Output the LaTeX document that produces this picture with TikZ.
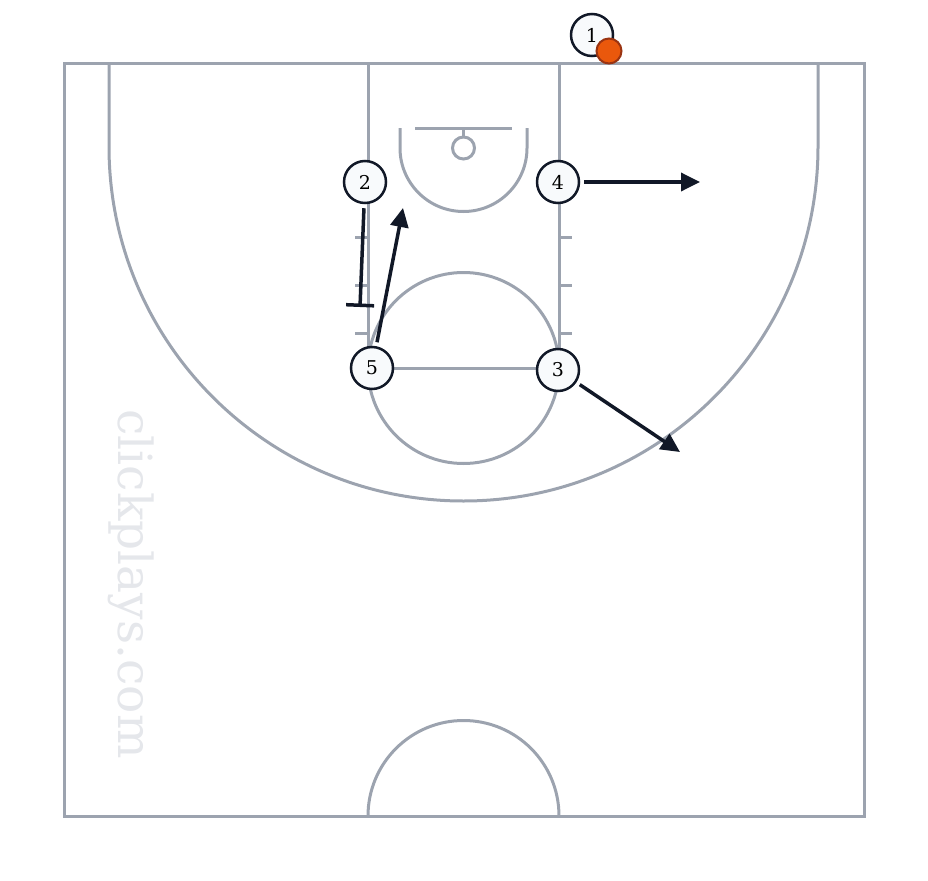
\documentclass[tikz,border=0pt]{standalone}
\usepackage{fontspec}
\setmainfont{DejaVu Serif}
\usetikzlibrary{arrows.meta, positioning, calc}
\definecolor{courtgray}{HTML}{9CA3AF}
\definecolor{ink}{HTML}{111827}
\definecolor{chip}{HTML}{F8FAFC}
\definecolor{ballfill}{HTML}{EA580C}
\definecolor{ballline}{HTML}{9A3412}
\definecolor{watermark}{HTML}{E5E7EB}

\begin{document}
\begin{tikzpicture}[x=1pt,y=-1pt,
      court/.style={draw=courtgray,line width=3pt},
      player/.style={circle,draw=ink,fill=chip,line width=2.5pt,minimum size=42pt,inner sep=0pt,font=\fontsize{19}{19}\selectfont},
      ball/.style={circle,draw=ballline,fill=ballfill,line width=2pt,minimum size=25pt,inner sep=0pt},
      move/.style={draw=ink,line width=3.5pt,shorten <=4pt,-{Triangle[length=19pt,width=18pt]}},
      screen/.style={draw=ink,line width=3.5pt,shorten <=4pt,-{Bar[width=28pt]}}]
  \useasboundingbox (0,0) rectangle (928,880);
  % court
  \draw[court] (64,64) rectangle (864,816);
  \draw[court] (109,64) -- (109,146.5) arc[start angle=180,end angle=0,radius=354.5] -- (818,64);
  \draw[court] (368,64) rectangle (559,368);
  \draw[court] (463.5,368) circle[radius=95.5];
  \foreach \y in {237,285,333} {
    \draw[court] (355,\y) -- (368,\y);
    \draw[court] (559,\y) -- (572,\y);
  }
  \draw[court] (415,128) -- (512,128);
  \draw[court] (463.5,128) -- (463.5,137);
  \draw[court] (463.5,148) circle[radius=11];
  \draw[court] (400,128) -- (400,148) arc[start angle=180,end angle=0,radius=63.5] -- (527,128);
  \draw[court] (368,816) arc[start angle=180,end angle=360,radius=95.5];
  \node[rotate=-90,text=watermark,font=\fontsize{47}{47}\selectfont] (wm) at (131,584) {clickplays.com};
  % players
  \node[player] (1) at (592,35) {1};
  \node[ball] (ball) at (609,51) {};
  \node[player] (2) at (365,182) {2};
  \node[player] (4) at (558,182) {4};
  \node[player] (5) at (372,368) {5};
  \node[player] (3) at (558,370) {3};
  % actions
  \coordinate (4end) at (700,182);
  \coordinate (5end) at (403,208);
  \coordinate (3end) at (680,452);
  \coordinate (2end) at (360,307);
  \draw[move] (4) -- (4end);
  \draw[move] (5) -- (5end);
  \draw[move] (3) -- (3end);
  \draw[screen] (2) -- (2end);
\end{tikzpicture}
\end{document}
